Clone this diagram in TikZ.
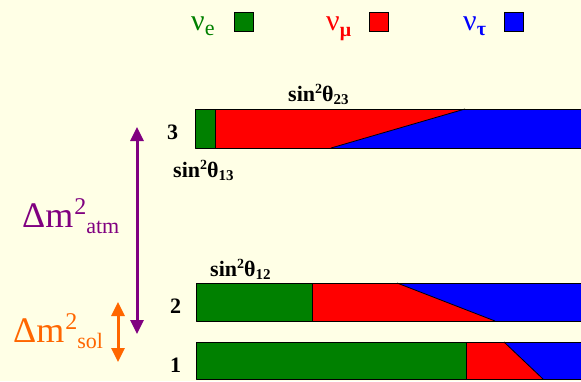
\documentclass[tikz,border=0pt]{standalone}
\usepackage{fontspec}
\setmainfont{Liberation Serif}
\usetikzlibrary{arrows.meta}
\definecolor{slideBg}{RGB}{255,255,230}
\definecolor{nuGreen}{RGB}{0,128,0}
\definecolor{nuRed}{RGB}{255,0,0}
\definecolor{nuBlue}{RGB}{0,0,255}
\definecolor{atmPurple}{RGB}{128,0,128}
\definecolor{solOrange}{RGB}{255,102,0}
\newcommand{\sinsq}[1]{sin\raisebox{8pt}{\fontsize{14}{14}\selectfont 2}θ\raisebox{-3pt}{\fontsize{15}{15}\selectfont #1}}
\newcommand{\dmsq}[1]{\fontsize{36}{36}\selectfont Δm\kern1pt\raisebox{13pt}{\fontsize{24}{24}\selectfont 2}\raisebox{-6pt}{\fontsize{22}{22}\selectfont #1}}
\begin{document}
\begin{tikzpicture}[x=1pt, y=-1pt,
  statelabel/.style={font=\fontsize{22}{22}\selectfont\bfseries, inner sep=0pt, anchor=base west},
  anglelabel/.style={font=\fontsize{22}{22}\selectfont\bfseries, inner sep=0pt, anchor=base west},
  flavourlabel/.style={inner sep=0pt, anchor=base west},
  legbox/.style={draw=black, line width=1pt, minimum size=19pt, inner sep=0pt},
  massarrow/.style={line width=3pt, {Triangle[width=13pt,length=14pt]}-{Triangle[width=13pt,length=14pt]}}]
% Page
\clip (0,0) rectangle (581,381);
\fill[slideBg] (0,0) rectangle (581,381);
% Flavour legend
\node[flavourlabel, text=nuGreen] (nue) at (191,30)
  {\fontsize{30}{30}\selectfont ν\raisebox{-5pt}{\fontsize{22}{22}\selectfont e}};
\node[legbox, fill=nuGreen] (boxe) at (244,22) {};
\node[flavourlabel, text=nuRed] (numu) at (326,30)
  {\fontsize{30}{30}\selectfont ν\raisebox{-6pt}{\fontsize{20}{20}\selectfont\bfseries μ}};
\node[legbox, fill=nuRed] (boxmu) at (379,22) {};
\node[flavourlabel, text=nuBlue] (nutau) at (463,30)
  {\fontsize{30}{30}\selectfont ν\raisebox{-5pt}{\fontsize{20}{20}\selectfont\bfseries τ}};
\node[legbox, fill=nuBlue] (boxtau) at (514,22) {};
% Mass state 3
\begin{scope}[draw=black, line width=0.8pt, line join=round]
  \fill[nuGreen] (195,109) rectangle (215,148);
  \fill[nuRed] (215,109) -- (465,109) -- (331,148) -- (215,148) -- cycle;
  \fill[nuBlue] (465,109) -- (585,109) -- (585,148) -- (331,148) -- cycle;
  \draw (215,109) -- (215,148);
  \draw (465,109) -- (331,148);
  \draw (195,109) rectangle (585,148);
\end{scope}
% Mass state 2
\begin{scope}[draw=black, line width=0.8pt, line join=round]
  \fill[nuGreen] (196,283) rectangle (312,321);
  \fill[nuRed] (312,283) -- (397,283) -- (495,321) -- (312,321) -- cycle;
  \fill[nuBlue] (397,283) -- (585,283) -- (585,321) -- (495,321) -- cycle;
  \draw (312,283) -- (312,321);
  \draw (397,283) -- (495,321);
  \draw (196,283) rectangle (585,321);
\end{scope}
% Mass state 1
\begin{scope}[draw=black, line width=0.8pt, line join=round]
  \fill[nuGreen] (196,342) rectangle (466,379);
  \fill[nuRed] (466,342) -- (504,342) -- (543,379) -- (466,379) -- cycle;
  \fill[nuBlue] (504,342) -- (585,342) -- (585,379) -- (543,379) -- cycle;
  \draw (466,342) -- (466,379);
  \draw (504,342) -- (543,379);
  \draw (196,342) rectangle (585,379);
\end{scope}
% State numbers and mixing angles
\node[statelabel] (m3) at (167,139) {3};
\node[statelabel] (m2) at (170,313) {2};
\node[statelabel] (m1) at (170,372) {1};
\node[anglelabel] (t23) at (288,101) {\sinsq{23}};
\node[anglelabel] (t13) at (173,177) {\sinsq{13}};
\node[anglelabel] (t12) at (210,276) {\sinsq{12}};
% Mass splittings
\coordinate (atmtop) at (137,127);
\coordinate (atmbot) at (137,334);
\coordinate (soltop) at (118,302);
\coordinate (solbot) at (118,362);
\draw[massarrow, draw=atmPurple] (atmtop) -- (atmbot);
\draw[massarrow, draw=solOrange] (soltop) -- (solbot);
\node[flavourlabel, text=atmPurple] (dmatm) at (22,227) {\dmsq{atm}};
\node[flavourlabel, text=solOrange] (dmsol) at (13,342) {\dmsq{sol}};
\end{tikzpicture}
\end{document}
